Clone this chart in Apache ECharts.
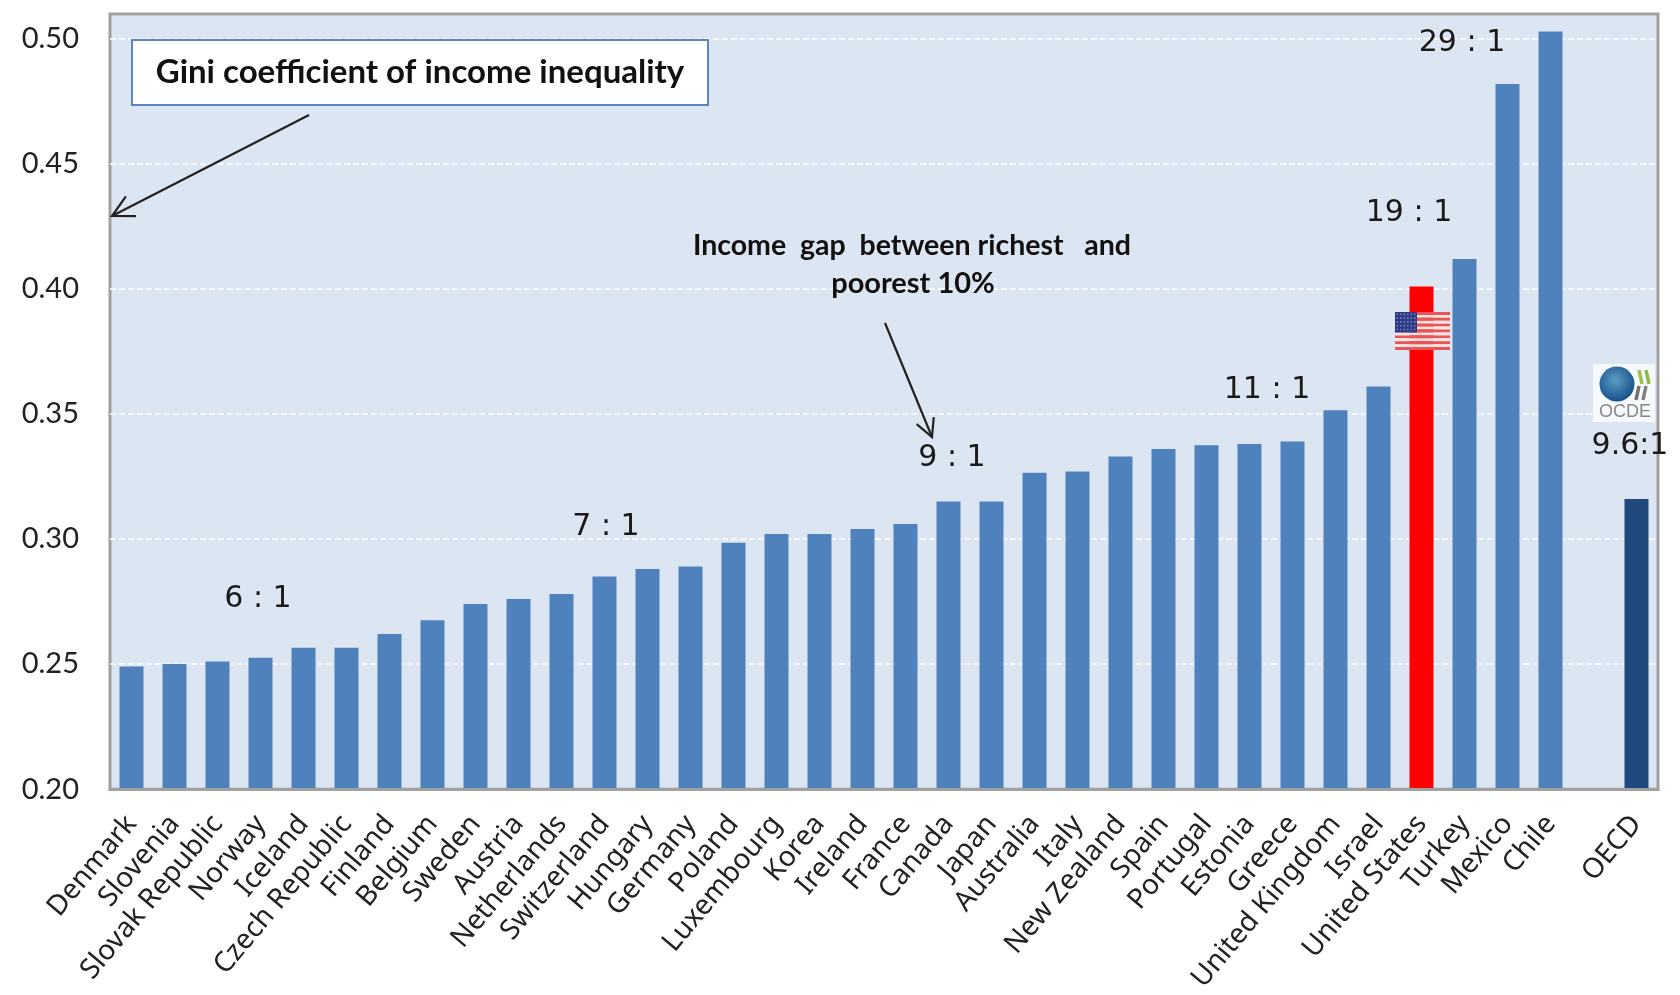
<!DOCTYPE html>
<html>
<head>
<meta charset="utf-8">
<title>Gini coefficient of income inequality</title>
<script src="https://cdn.jsdelivr.net/npm/echarts@6/dist/echarts.min.js"></script>
<style>
html, body { margin: 0; padding: 0; background: #fff; }
#chart { width: 1680px; height: 995px; }
</style>
</head>
<body>
<div id="chart"></div>
<script>
var countries = ['Denmark', 'Slovenia', 'Slovak Republic', 'Norway', 'Iceland', 'Czech Republic', 'Finland', 'Belgium',
  'Sweden', 'Austria', 'Netherlands', 'Switzerland', 'Hungary', 'Germany', 'Poland', 'Luxembourg', 'Korea', 'Ireland',
  'France', 'Canada', 'Japan', 'Australia', 'Italy', 'New Zealand', 'Spain', 'Portugal', 'Estonia', 'Greece',
  'United Kingdom', 'Israel', 'United States', 'Turkey', 'Mexico', 'Chile', '', 'OECD'];
var gini = [0.249, 0.250, 0.251, 0.2525, 0.2565, 0.2565, 0.262, 0.2675,
  0.274, 0.276, 0.278, 0.285, 0.288, 0.289, 0.2985, 0.302, 0.302, 0.304,
  0.306, 0.315, 0.315, 0.3265, 0.327, 0.333, 0.336, 0.3375, 0.338, 0.339,
  0.3515, 0.361, 0.401, 0.412, 0.482, 0.503, null, 0.316];
var yTicks = { min: 0.20, max: 0.51, interval: 0.05 };
var ratios = ['6 : 1', '7 : 1', '9 : 1', '11 : 1', '19 : 1', '29 : 1', '9.6:1'];
var ratioPos = [[258, 599], [606, 527], [952, 458], [1267, 390], [1409, 213], [1462, 43], [1630, 446]];

var chart = echarts.init(document.getElementById('chart'));

var BLUE = '#4F81BD', RED = '#FF0000', NAVY = '#1F497D';

function barItem(v, i) {
  var name = countries[i];
  // US and OECD bars are a bit wider than the others, border does that
  if (name === 'United States') {
    return { value: v, itemStyle: { color: RED, borderColor: RED, borderWidth: 3 } };
  }
  if (name === 'OECD') {
    return { value: v, itemStyle: { color: NAVY, borderColor: NAVY, borderWidth: 3 } };
  }
  return { value: v };
}

// annotations
var graphics = [];

ratios.forEach(function (t, i) {
  graphics.push({
    type: 'text', x: ratioPos[i][0], y: ratioPos[i][1], z: 20,
    style: { text: t, font: '30px "DejaVu Sans"', fill: '#1a1a1a', align: 'center', verticalAlign: 'middle' }
  });
});

// title box
graphics.push({
  type: 'rect', z: 20,
  shape: { x: 132, y: 40, width: 576, height: 65 },
  style: { fill: '#fff', stroke: '#5B87C0', lineWidth: 2 }
});
graphics.push({
  type: 'text', x: 420, y: 72, z: 21,
  style: { text: 'Gini coefficient of income inequality', font: 'bold 33px Lato', fill: '#111', align: 'center', verticalAlign: 'middle' }
});
graphics.push({
  type: 'text', x: 912, y: 246, z: 21,
  style: { text: 'Income  gap  between richest   and', font: 'bold 28.5px Lato', fill: '#111', align: 'center', verticalAlign: 'middle' }
});
graphics.push({
  type: 'text', x: 913, y: 284, z: 21,
  style: { text: 'poorest 10%', font: 'bold 29px Lato', fill: '#111', align: 'center', verticalAlign: 'middle' }
});

function arrow(x1, y1, x2, y2, h) {
  var a = Math.atan2(y1 - y2, x1 - x2), s = 0.48;
  var st = { stroke: '#222', lineWidth: 2.2, fill: null };
  graphics.push({ type: 'line', z: 22, shape: { x1: x1, y1: y1, x2: x2, y2: y2 }, style: st });
  graphics.push({
    type: 'polyline', z: 22,
    shape: { points: [
      [x2 + h * Math.cos(a + s), y2 + h * Math.sin(a + s)],
      [x2, y2],
      [x2 + h * Math.cos(a - s), y2 + h * Math.sin(a - s)]
    ] },
    style: st
  });
}
arrow(309, 115, 112, 216, 24);
arrow(885, 323, 932, 437, 20);

// US flag
var flagX = 1395, flagY = 312, flagW = 55, flagH = 38;
for (var s = 0; s < 13; s++) {
  graphics.push({
    type: 'rect', z: 25,
    shape: { x: flagX, y: flagY + s * flagH / 13, width: flagW, height: flagH / 13 },
    style: { fill: s % 2 ? '#FBE4E0' : '#E5565A' }
  });
}
graphics.push({
  type: 'rect', z: 26,
  shape: { x: flagX, y: flagY, width: 22, height: 20.5 },
  style: { fill: '#2E3A85' }
});
for (var r = 0; r < 5; r++) {
  for (var c = 0; c < 6; c++) {
    graphics.push({
      type: 'rect', z: 27,
      shape: { x: flagX + 1.5 + c * 3.5, y: flagY + 1.5 + r * 3.8, width: 1.6, height: 1.6 },
      style: { fill: '#7580BC' }
    });
  }
}

// OCDE logo
graphics.push({ type: 'rect', z: 25, shape: { x: 1593, y: 364, width: 62, height: 58 }, style: { fill: '#F7FAFC' } });
graphics.push({
  type: 'circle', z: 26, shape: { cx: 1617, cy: 384, r: 17.5 },
  style: {
    fill: new echarts.graphic.RadialGradient(0.45, 0.4, 0.65, [
      { offset: 0, color: '#5E9CC4' }, { offset: 1, color: '#0F4C86' }
    ])
  }
});
[[1639, '#9CC04A', 370, 384], [1646, '#8FB83F', 370, 384], [1639, '#707070', 386, 400], [1646, '#808080', 386, 400]].forEach(function (l) {
  graphics.push({
    type: 'line', z: 26,
    shape: { x1: l[0], y1: l[2], x2: l[0] + (l[2] < 380 ? 3 : -3), y2: l[3] },
    style: { stroke: l[1], lineWidth: 3.5 }
  });
});
graphics.push({
  type: 'text', x: 1625, y: 412, z: 26,
  style: { text: 'OCDE', font: '18px "Liberation Sans"', fill: '#888', align: 'center', verticalAlign: 'middle' }
});

chart.setOption({
  animation: false,
  grid: {
    left: 110, right: 22, top: 14, bottom: 205,
    show: true, backgroundColor: '#DCE6F2', borderColor: '#A0A0A0', borderWidth: 3,
    containLabel: false
  },
  xAxis: {
    type: 'category',
    data: countries,
    z: 5,
    axisLine: { show: true, lineStyle: { color: '#A0A0A0', width: 3 } },
    axisTick: { show: false },
    axisLabel: {
      interval: 0, rotate: 50, margin: 30, fontSize: 28,
      fontFamily: '"Noto Sans"', color: '#222'
    }
  },
  yAxis: {
    type: 'value',
    min: yTicks.min, max: yTicks.max, interval: yTicks.interval,
    axisLine: { show: false },
    axisTick: { show: false },
    axisLabel: {
      showMaxLabel: false, margin: 31, fontSize: 29, fontFamily: 'Lato', color: '#222',
      formatter: function (v) { return v.toFixed(2); }
    },
    splitLine: { show: true, showMinLine: false, showMaxLine: false, lineStyle: { color: '#fff', type: [6, 3], width: 1.5 } }
  },
  series: [{
    type: 'bar',
    barWidth: 24,
    itemStyle: { color: BLUE },
    data: gini.map(barItem)
  }],
  graphic: { elements: graphics }
});
</script>
</body>
</html>
